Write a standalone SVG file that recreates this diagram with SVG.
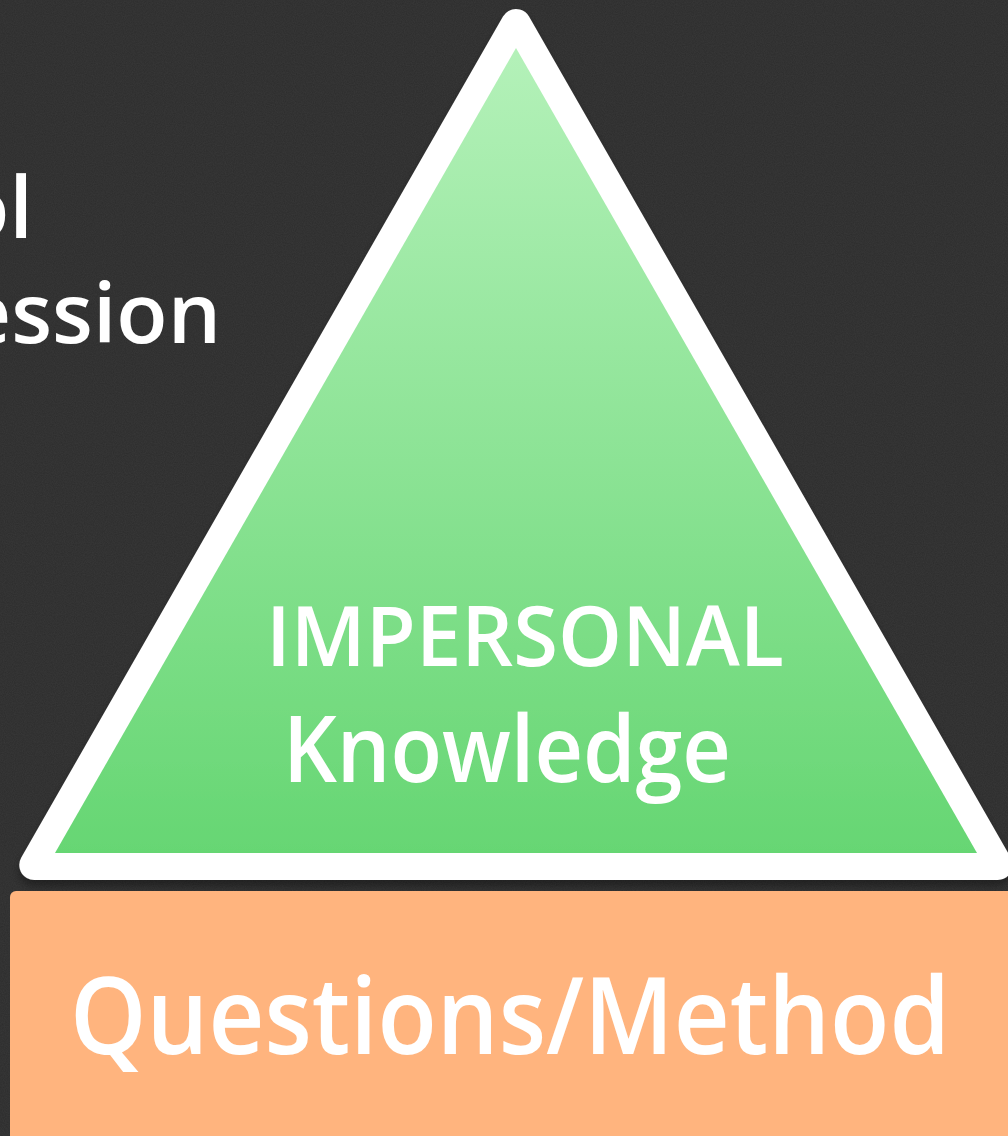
<svg xmlns="http://www.w3.org/2000/svg" width="1008" height="1136" viewBox="0 0 1008 1136">
  <defs>
    <linearGradient id="greenGrad" x1="0" y1="48" x2="0" y2="853" gradientUnits="userSpaceOnUse">
      <stop offset="0" stop-color="#b4f1b9"/>
      <stop offset="1" stop-color="#66d673"/>
    </linearGradient>
    <filter id="chalk" x="0" y="0" width="100%" height="100%">
      <feTurbulence type="fractalNoise" baseFrequency="0.9" numOctaves="2" seed="3" result="n"/>
      <feColorMatrix in="n" type="matrix" values="0 0 0 0 1  0 0 0 0 1  0 0 0 0 1  0 0 0 0.06 0"/>
    </filter>
    <filter id="shadow" x="-5%" y="-5%" width="110%" height="115%">
      <feDropShadow dx="0" dy="6" stdDeviation="4" flood-color="#000" flood-opacity="0.35"/>
    </filter>
  </defs>
  <style>
    .txt { font-family: "Open Sans", "Liberation Sans", sans-serif; font-weight: 600; fill: #ffffff; }
  </style>

  <g id="background">
    <rect x="0" y="0" width="1008" height="1136" fill="#2c2c2c"/>
    <rect x="0" y="0" width="1008" height="1136" filter="url(#chalk)"/>
  </g>

  <g id="left-text">
    <text class="txt" x="33" y="238" font-size="85" text-anchor="end">ol</text>
    <text class="txt" x="221" y="343" font-size="84" text-anchor="end">ession</text>
  </g>

  <g id="triangle" filter="url(#shadow)">
    <polygon points="516,24 34.3,865 997.7,865" fill="#ffffff" stroke="#ffffff" stroke-width="30" stroke-linejoin="round"/>
    <polygon points="516,48 55,853 977,853" fill="url(#greenGrad)"/>
    <text class="txt" x="266" y="666" font-size="84" textLength="518" lengthAdjust="spacingAndGlyphs">IMPERSONAL</text>
    <text class="txt" x="283" y="782" font-size="92" textLength="448" lengthAdjust="spacingAndGlyphs">Knowledge</text>
  </g>

  <g id="base">
    <rect x="10" y="891" width="1010" height="260" rx="6" ry="6" fill="#ffb47e"/>
    <text class="txt" x="70" y="1054" font-size="106" textLength="880" lengthAdjust="spacingAndGlyphs">Questions/Method</text>
  </g>

  <g id="connectors"/>
</svg>
